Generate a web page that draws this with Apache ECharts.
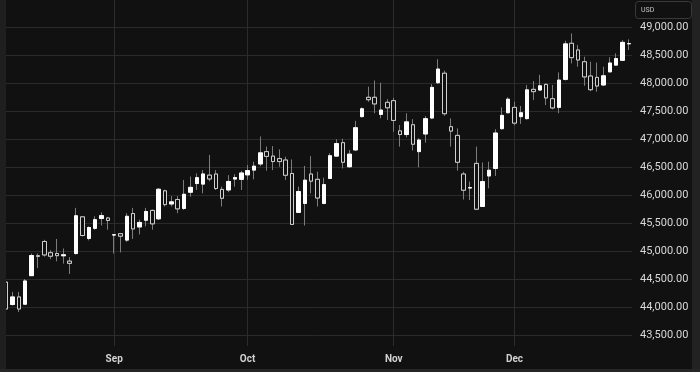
<!DOCTYPE html>
<html>
<head>
<meta charset="utf-8">
<script src="https://cdn.jsdelivr.net/npm/echarts@6/dist/echarts.min.js"></script>
<style>
html,body{margin:0;padding:0;background:#111111;}
#chart{width:700px;height:372px;}
</style>
</head>
<body>
<div id="chart"></div>
<script>
const dates = [
  '2025-08-07','2025-08-08','2025-08-11','2025-08-12','2025-08-13','2025-08-14','2025-08-15','2025-08-18','2025-08-19','2025-08-20',
  '2025-08-21','2025-08-22','2025-08-25','2025-08-26','2025-08-27','2025-08-28','2025-08-29',
  '2025-09-02','2025-09-03','2025-09-04','2025-09-05','2025-09-08','2025-09-09','2025-09-10','2025-09-11','2025-09-12','2025-09-15',
  '2025-09-16','2025-09-17','2025-09-18','2025-09-19','2025-09-22','2025-09-23','2025-09-24','2025-09-25','2025-09-26','2025-09-29','2025-09-30',
  '2025-10-01','2025-10-02','2025-10-03','2025-10-06','2025-10-07','2025-10-08','2025-10-09','2025-10-10','2025-10-13','2025-10-14',
  '2025-10-15','2025-10-16','2025-10-17','2025-10-20','2025-10-21','2025-10-22','2025-10-23','2025-10-24','2025-10-27','2025-10-28',
  '2025-10-29','2025-10-30','2025-10-31',
  '2025-11-03','2025-11-04','2025-11-05','2025-11-06','2025-11-07','2025-11-10','2025-11-11','2025-11-12','2025-11-13','2025-11-14',
  '2025-11-17','2025-11-18','2025-11-19','2025-11-20','2025-11-21','2025-11-24','2025-11-25','2025-11-26','2025-11-28',
  '2025-12-01','2025-12-02','2025-12-03','2025-12-04','2025-12-05','2025-12-08','2025-12-09','2025-12-10','2025-12-11','2025-12-12',
  '2025-12-15','2025-12-16','2025-12-17','2025-12-18','2025-12-19','2025-12-22','2025-12-23','2025-12-24','2025-12-26'
];

const openP = [
  44450,44050,44185,44055,44565,44920,45175,44975,44960,44920,
  44825,44960,45615,45230,45410,45585,45595,
  45290,45315,45200,45675,45435,45555,45730,45580,46080,45845,
  45925,45765,46055,46210,46200,46360,46380,46105,46095,46290,46285,
  46365,46450,46560,46780,46700,46655,46630,46390,45695,45855,
  46380,46285,45855,46300,46700,46940,46510,46810,47405,47750,
  47750,47445,47660,
  47690,47150,47085,47260,46780,47095,47380,48010,48180,47225,
  47070,46380,46130,46570,45800,46345,46480,47190,47475,
  47570,47405,47370,47892,47880,47980,47725,47570,48070,48715,
  48595,48385,48130,48105,47970,48205,48325,48410,48705
];
const highP = [
  44490,44275,44275,44505,44960,44960,45205,45020,45220,45050,
  44895,45775,45630,45445,45625,45695,45615,
  45310,45320,45680,45775,45565,45775,45745,46130,46100,45985,
  45985,46275,46335,46390,46450,46720,46450,46155,46360,46375,46435,
  46540,46600,47050,46870,46880,46820,46690,46640,46155,46525,
  46700,46420,46315,46750,47000,47010,46810,47330,47570,47940,
  48050,48010,47715,
  47740,47255,47465,47360,47020,47415,47985,48430,48225,47375,
  47195,46420,46245,46870,46585,46600,47180,47570,47750,
  47672,47595,47970,48040,48150,48000,47970,48195,48760,48890,
  48685,48475,48385,48370,48295,48465,48535,48770,48785
];
const lowP = [
  43810,44030,43915,44040,44560,44700,44905,44860,44820,44780,
  44595,44940,45265,45195,45385,45460,45385,
  44960,44980,45170,45220,45300,45445,45385,45560,45800,45800,
  45680,45740,45975,46095,46035,46250,46095,45800,46055,46155,46095,
  46275,46285,46520,46440,46450,46510,46275,45470,45690,45460,
  46035,45800,45840,46290,46690,46480,46490,46790,47390,47670,
  47465,47375,47345,
  47135,46870,47035,46800,46500,46940,47360,47990,47420,46870,
  46440,45925,45915,45735,45790,46125,46345,47170,47460,
  47250,47275,47350,47700,47860,47610,47535,47465,48050,48355,
  48295,47955,47860,47850,47950,48190,48310,48400,48595
];
const closeP = [
  43970,44185,43970,44470,44925,44911,44935,44912,44922,44938,
  44785,45635,45282,45425,45565,45637,45550,
  45296,45270,45625,45400,45515,45711,45490,46108,45834,45883,
  45758,46018,46142,46315,46381,46292,46121,45947,46247,46316,46398,
  46441,46520,46758,46695,46603,46602,46358,45480,46068,46270,
  46253,45952,46191,46707,46924,46590,46735,47207,47545,47707,
  47632,47522,47563,
  47337,47085,47311,46912,46987,47368,47927,48254,47457,47147,
  46590,46091,46138,45752,46245,46448,47112,47427,47716,
  47289,47474,47883,47851,47955,47739,47560,48057,48704,48458,
  48416,48114,47886,47951,48134,48362,48442,48731,48710
];

const yTicks = [43500,44000,44500,45000,45500,46000,46500,47000,47500,48000,48500,49000];
const monthNames = ['Jan','Feb','Mar','Apr','May','Jun','Jul','Aug','Sep','Oct','Nov','Dec'];

const monthOf = d => parseInt(d.slice(5,7),10);
const isMonthStart = idx => idx > 0 && monthOf(dates[idx]) !== monthOf(dates[idx-1]);

const fullData = dates.map((d,i) => [openP[i], closeP[i], lowP[i], highP[i]]);
const bodyData = dates.map((d,i) => [openP[i], closeP[i], Math.min(openP[i],closeP[i]), Math.max(openP[i],closeP[i])]);

const chart = echarts.init(document.getElementById('chart'), null, {renderer:'canvas'});
const option = {
  backgroundColor: '#111111',
  animation: false,
  grid: { left: 3, right: 68, top: 0, bottom: 26, containLabel: false },
  xAxis: {
    type: 'category',
    data: dates,
    boundaryGap: true,
    axisLine: { show: false },
    axisTick: { show: false, alignWithLabel: true, interval: (i) => isMonthStart(i) },
    splitLine: { show: true, alignWithLabel: true, interval: (i) => isMonthStart(i), lineStyle: { color: '#2c2c2c', width: 1 } },
    axisLabel: {
      interval: (i) => isMonthStart(i),
      formatter: (v) => monthNames[monthOf(v) - 1],
      color: '#d2d2d2', fontSize: 10, fontWeight: 'bold', fontFamily: 'Roboto', margin: 8
    }
  },
  yAxis: {
    type: 'value',
    position: 'right',
    scale: true,
    min: 43308.9,
    max: 49487.5,
    axisLine: { show: false },
    axisTick: { show: false, customValues: yTicks },
    splitLine: { show: true, lineStyle: { color: '#2a2a2a', width: 1 } },
    axisLabel: {
      customValues: yTicks,
      margin: 8,
      color: '#d8d8d8', fontSize: 11, fontFamily: 'Roboto',
      formatter: (v) => v.toLocaleString('en-US', { minimumFractionDigits: 2, maximumFractionDigits: 2 })
    }
  },
  series: [
    {
      name: 'wick',
      type: 'candlestick',
      data: fullData,
      barWidth: 4,
      clip: false,
      z: 2,
      itemStyle: { color: '#7c7c7c', color0: '#7c7c7c', borderColor: '#7c7c7c', borderColor0: '#7c7c7c', borderWidth: 1 }
    },
    {
      name: 'body',
      type: 'candlestick',
      data: bodyData,
      barWidth: 4,
      clip: false,
      z: 3,
      itemStyle: { color: '#ffffff', color0: '#111111', borderColor: '#ffffff', borderColor0: '#cfcfcf', borderWidth: 1 }
    }
  ],
  graphic: [
    { type: 'rect', z: 100, shape: { x: 0, y: 0, width: 6, height: 372 }, style: { fill: '#1f1f1f' } },
    { type: 'rect', z: 100, shape: { x: 692, y: 0, width: 8, height: 372 }, style: { fill: '#222222' } },
    { type: 'rect', z: 100, shape: { x: 0, y: 369, width: 700, height: 3 }, style: { fill: '#262626' } },
    { type: 'rect', z: 100, shape: { x: 635.5, y: 1.5, width: 56, height: 17, r: 3 }, style: { fill: '#111111', stroke: '#3a3a3a', lineWidth: 1 } },
    { type: 'text', z: 101, x: 641, y: 10, style: { text: 'USD', fill: '#c4c4c4', font: '7px Roboto', verticalAlign: 'middle', align: 'left' } }
  ]
};
chart.setOption(option);
</script>
</body>
</html>
